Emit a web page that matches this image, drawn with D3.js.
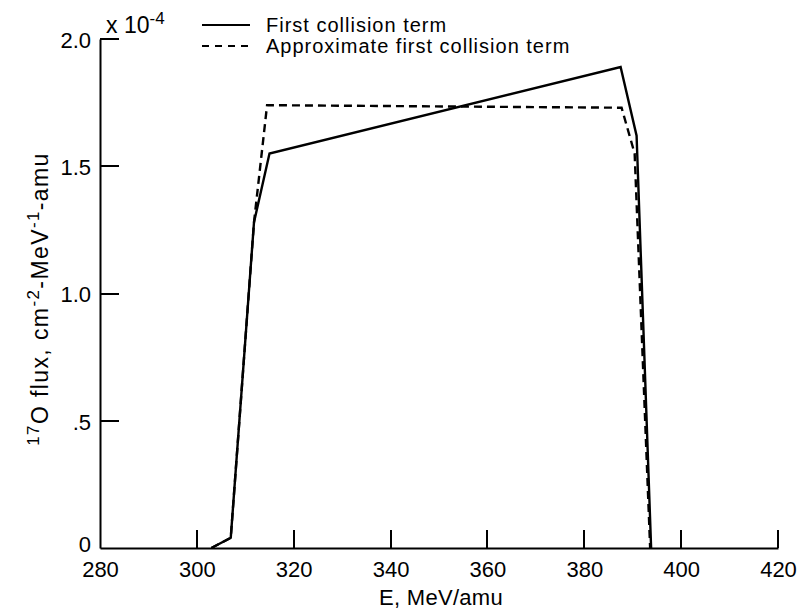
<!DOCTYPE html>
<html>
<head>
<meta charset="utf-8">
<script src="https://cdn.jsdelivr.net/npm/d3@7"></script>
<style>
  body { margin: 0; background: #fff; }
  text { font-family: "Liberation Sans", Arial, sans-serif; fill: #000; }
</style>
</head>
<body>
<div id="vis"></div>
<script>
// Datos (E en MeV/amu, flujo en unidades de 1e-4)
const firstE    = [303, 307, 311.8, 315, 387.5, 390.8, 393.8];
const firstFlux = [0, 0.04, 1.28, 1.55, 1.89, 1.62, 0];
const approxE    = [303, 307, 311.8, 314.5, 387.7, 390.4, 393.6];
const approxFlux = [0, 0.04, 1.28, 1.74, 1.73, 1.55, 0];
const xTicks = [280, 300, 320, 340, 360, 380, 400, 420];
const yTicks = [0, 0.5, 1.0, 1.5, 2.0];
const yTickLabels = ["0", ".5", "1.0", "1.5", "2.0"];
const legendNames = ["First collision term", "Approximate first collision term"];

const WIDTH = 802;
const HEIGHT = 613;
const SVG = d3.select("#vis").append("svg")
  .attr("width", WIDTH)
  .attr("height", HEIGHT);

const escalaX = d3.scaleLinear().domain([280, 420]).range([100, 778]);
const escalaY = d3.scaleLinear().domain([0, 2]).range([548, 39]);

// ejes: línea del dominio y textos
const ejeX = d3.axisBottom(escalaX).tickValues(xTicks)
  .tickSize(0).tickPadding(8)
  .tickFormat(d3.format("d"));
const gx = SVG.append("g").attr("transform", `translate(0,${escalaY(0)})`).call(ejeX);
gx.select(".domain").attr("stroke", "#000").attr("stroke-width", 2);
gx.selectAll("text").attr("font-size", 22).attr("dy", "0.95em");

const ejeY = d3.axisLeft(escalaY).tickValues(yTicks)
  .tickSize(0).tickPadding(9)
  .tickFormat((d, i) => yTickLabels[i]);
const gy = SVG.append("g").attr("transform", `translate(${escalaX(280)},0)`).call(ejeY);
gy.select(".domain").attr("stroke", "#000").attr("stroke-width", 2);
gy.selectAll("text").attr("font-size", 22).attr("dy", d => d === 0 ? "0.18em" : "0.38em");

// marcas hacia adentro
SVG.append("g").selectAll("rect")
  .data(xTicks.filter(d => d !== 280))
  .join("rect")
  .attr("x", d => Math.round(escalaX(d)) - 1)
  .attr("y", escalaY(0) - 18)
  .attr("width", 2)
  .attr("height", 18)
  .attr("fill", "#000");

SVG.append("g").selectAll("rect")
  .data(yTicks.filter(d => d !== 0))
  .join("rect")
  .attr("x", escalaX(280))
  .attr("y", d => Math.round(escalaY(d)) - 1)
  .attr("width", 19)
  .attr("height", 2)
  .attr("fill", "#000");

// factor de escala
const mult = SVG.append("text").attr("x", 106).attr("y", 33).attr("font-size", 23);
mult.append("tspan").text("x 10");
mult.append("tspan").attr("font-size", 17).attr("dy", -9).text("-4");

// títulos de ejes
SVG.append("text")
  .attr("x", (escalaX(280) + escalaX(420)) / 2 + 2)
  .attr("y", 605)
  .attr("text-anchor", "middle")
  .attr("font-size", 22)
  .attr("letter-spacing", 0.3)
  .text("E, MeV/amu");

const yt = SVG.append("text")
  .attr("transform", "translate(48,299) rotate(-90)")
  .attr("text-anchor", "middle")
  .attr("font-size", 23)
  .attr("letter-spacing", 1.4);
yt.append("tspan").attr("font-size", 17).attr("dy", -9).text("17");
yt.append("tspan").attr("dy", 9).text("O flux, cm");
yt.append("tspan").attr("font-size", 17).attr("dy", -9).text("-2");
yt.append("tspan").attr("dy", 9).text("-MeV");
yt.append("tspan").attr("font-size", 17).attr("dy", -9).text("-1");
yt.append("tspan").attr("dy", 9).text("-amu");

// curvas
const linea = d3.line().x(d => escalaX(d[0])).y(d => escalaY(d[1]));
const firstData = firstE.map((e, i) => [e, firstFlux[i]]);
const approxData = approxE.map((e, i) => [e, approxFlux[i]]);

SVG.append("path").datum(approxData)
  .attr("d", linea)
  .attr("fill", "none")
  .attr("stroke", "#000")
  .attr("stroke-width", 2.4)
  .attr("stroke-dasharray", "8,5");

SVG.append("path").datum(firstData)
  .attr("d", linea)
  .attr("fill", "none")
  .attr("stroke", "#000")
  .attr("stroke-width", 2.4);

// leyenda
const legend = SVG.append("g");
legendNames.forEach((name, i) => {
  const ly = 25 + i * 21;
  legend.append("line")
    .attr("x1", 202).attr("x2", 250).attr("y1", ly).attr("y2", ly)
    .attr("stroke", "#000").attr("stroke-width", 2)
    .attr("stroke-dasharray", i === 1 ? "7,6" : null);
  legend.append("text")
    .attr("x", 266).attr("y", ly + 7)
    .attr("font-size", 20)
    .attr("letter-spacing", 1)
    .text(name);
});
</script>
</body>
</html>
